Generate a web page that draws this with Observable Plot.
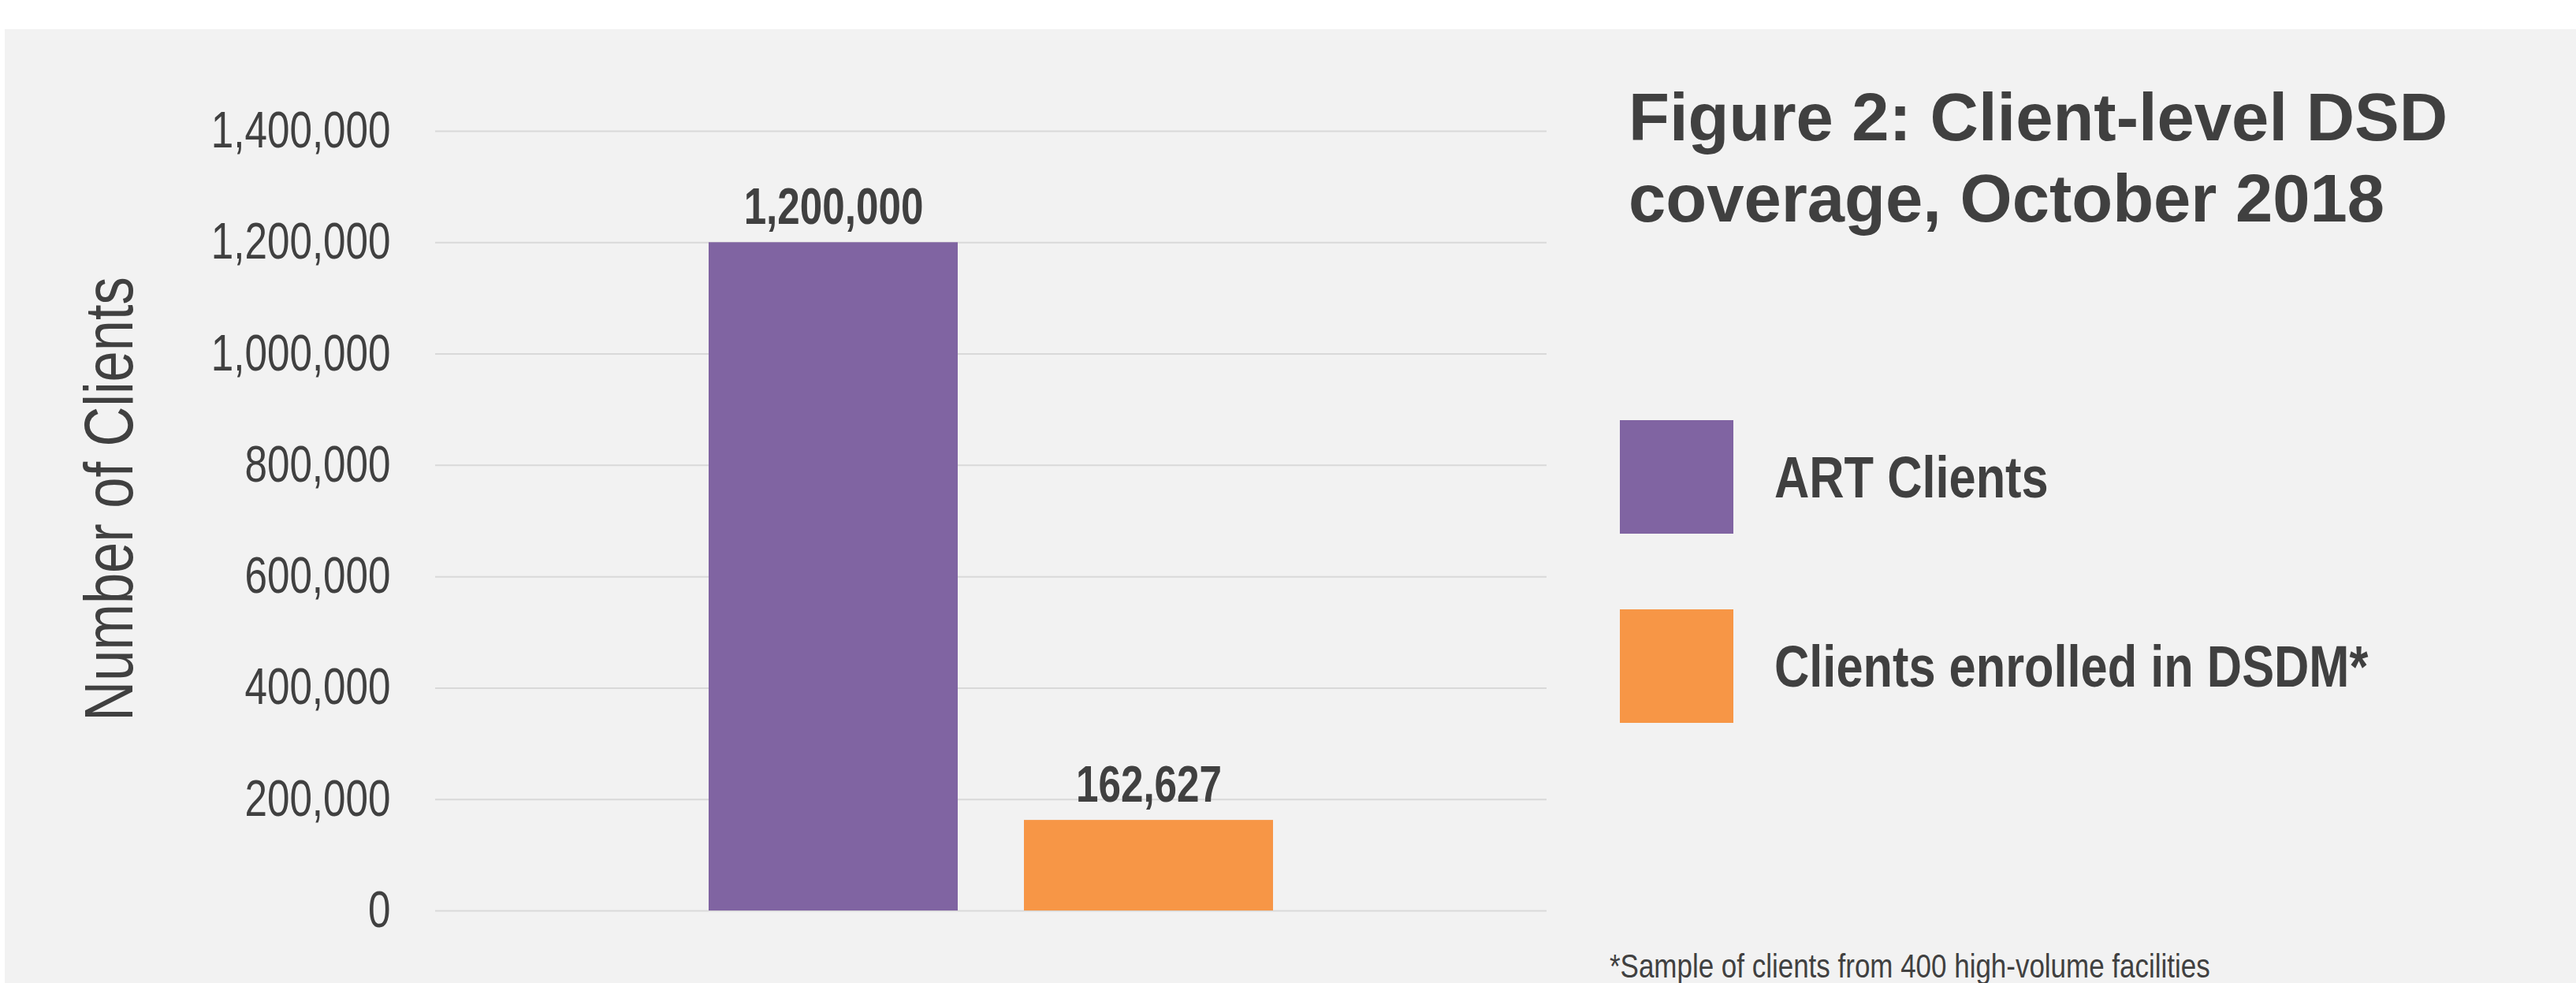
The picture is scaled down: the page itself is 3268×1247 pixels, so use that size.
<!DOCTYPE html>
<html>
<head>
<meta charset="utf-8">
<script src="https://cdn.jsdelivr.net/npm/d3@7"></script>
<script src="https://cdn.jsdelivr.net/npm/@observablehq/plot@0.6"></script>
<style>
  html, body { margin: 0; padding: 0; background: #ffffff; width: 3268px; height: 1247px; overflow: hidden; }
  #panel { position: absolute; left: 6px; top: 37px; width: 3262px; height: 1210px; background: #f2f2f2; }
  #chart { position: absolute; left: 0; top: 37px; width: 2000px; }
  #chart svg { max-width: none; }
  .narrow { font-family: "Liberation Sans Narrow", "Arial Narrow", "Liberation Sans", Arial, sans-serif;
            display: inline-block; transform: scaleX(0.8); transform-origin: left center; }
  #title { position: absolute; left: 2066px; top: 97px; font-family: "Liberation Sans", Arial, sans-serif;
           font-weight: bold; font-size: 85px; line-height: 103px; color: #404040; white-space: nowrap; }
  .legend-item { position: absolute; left: 2055px; height: 144px; display: flex; align-items: center; }
  .swatch { width: 144px; height: 144px; margin-right: 52px; flex: none; }
  .legend-label { font-weight: bold; font-size: 75px; color: #404040; white-space: nowrap; transform: scaleX(0.818); }
  #footnote { position: absolute; left: 2042px; top: 1204px; font-size: 43px; line-height: 43px; color: #404040; white-space: nowrap; }
  #footnote .narrow { transform: scaleX(0.813); }
</style>
</head>
<body>
<div id="panel"></div>
<div id="chart"></div>
<div id="title"></div>
<div id="legend"></div>
<div id="footnote"><span class="narrow" id="footnote-text"></span></div>
<script>
// ---- data ----
const series = ["ART Clients", "Clients enrolled in DSDM*"];
const values = [1200000, 162627];
const colors = ["#8064a2", "#f79646"];
const yTicks = [0, 200000, 400000, 600000, 800000, 1000000, 1200000, 1400000];
const yLabel = "Number of Clients";
const titleLines = ["Figure 2: Client-level DSD", "coverage, October 2018"];
const footnote = "*Sample of clients from 400 high-volume facilities";
const legendTops = [533, 773];

const FONT = '"Liberation Sans", Arial, sans-serif';
const SQUEEZE = 0.8; // narrow (Arial Narrow-like) text width
const fmt = d3.format(",");
const data = series.map((s, i) => ({series: s, value: values[i]}));

const chart = Plot.plot({
  width: 2000,
  height: 1210,
  marginTop: 129,
  marginBottom: 92,
  marginLeft: 552,
  marginRight: 38,
  style: {background: "transparent", color: "#404040", fontFamily: FONT, overflow: "visible"},
  x: {domain: series, paddingInner: 0.2095, paddingOuter: 0.863, axis: null},
  y: {domain: [0, 1400000], axis: null},
  color: {domain: series, range: colors},
  marks: [
    Plot.gridY(yTicks, {stroke: "#d9d9d9", strokeOpacity: 1, strokeWidth: 2}),
    Plot.axisY(yTicks, {tickSize: 0, tickPadding: 57, tickFormat: fmt, fontSize: 64, label: null, fill: "#404040"}),
    Plot.barY(data, {x: "series", y: "value", fill: "series"}),
    Plot.text(data, {x: "series", y: "value", text: d => fmt(d.value), dy: -24, lineAnchor: "bottom",
                     fontSize: 64, fontWeight: "bold", fill: "#404040"}),
    Plot.text([yLabel], {text: d => d, frameAnchor: "left", rotate: -90, dx: -385, dy: -28,
                         lineAnchor: "bottom", textAnchor: "middle", fontSize: 88, fill: "#404040"})
  ]
});
// narrow the chart text along its baseline (a condensed face is not installed)
chart.querySelectorAll("text").forEach(t => {
  const tr = t.getAttribute("transform");
  if (tr) t.setAttribute("transform", `${tr} scale(${SQUEEZE},1)`);
});
document.getElementById("chart").appendChild(chart);

// title
const t = document.getElementById("title");
titleLines.forEach(l => { const d = document.createElement("div"); d.textContent = l; t.appendChild(d); });

// legend
const lg = document.getElementById("legend");
series.forEach((s, i) => {
  const item = document.createElement("div");
  item.className = "legend-item";
  item.style.top = legendTops[i] + "px";
  const sw = document.createElement("div");
  sw.className = "swatch";
  sw.style.background = colors[i];
  const lab = document.createElement("span");
  lab.className = "narrow legend-label";
  lab.textContent = s;
  item.appendChild(sw); item.appendChild(lab);
  lg.appendChild(item);
});

document.getElementById("footnote-text").textContent = footnote;
</script>
</body>
</html>
